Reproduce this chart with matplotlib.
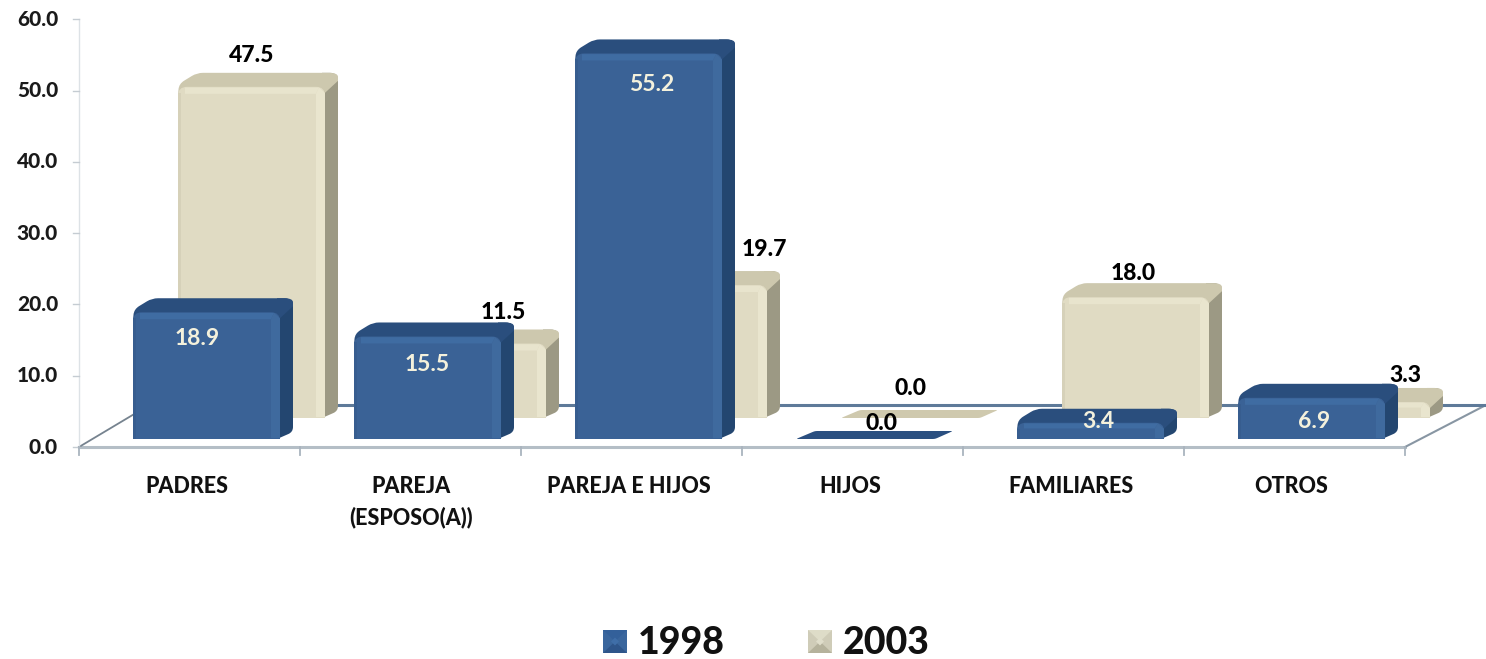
import matplotlib
matplotlib.use("Agg")
import matplotlib.pyplot as plt
from matplotlib.patches import Polygon, PathPatch
from matplotlib.path import Path

# ---------- data ----------
categories = ["PADRES", "PAREJA\n(ESPOSO(A))", "PAREJA E HIJOS", "HIJOS", "FAMILIARES", "OTROS"]
values_1998 = [18.9, 15.5, 55.2, 0.0, 3.4, 6.9]
values_2003 = [47.5, 11.5, 19.7, 0.0, 18.0, 3.3]
y_ticks = [0, 10, 20, 30, 40, 50, 60]
series_names = ["1998", "2003"]

# ---------- layout (pixels of the 1486x659 canvas) ----------
W, H = 1486, 659
X0, CAT_W = 79, 221
Y0, PX_PER_UNIT = 447, 7.13
BAR_W = 147
FRONT_LEFT, BACK_LEFT = 54, 99
FRONT_BASE, BACK_BASE = 439, 418
BACK_SHIFT = 21.5
DEPTH_X, DEPTH_Y = 13, 14

BLUE = dict(face="#3A6296", hi="#3F6A9E", cap="#2A4E7D", band="#3F6CA2", side="#234670",
            edge="#375D8F", flat="#2A4F80", text="#F4F1DC")
BEIGE = dict(face="#E0DBC3", hi="#E9E5CE", cap="#CDC8AE", band="#E8E4CD", side="#9C9984",
             edge="#D6D1B9", flat="#CFC9AE", text="black")

# per-label nudges (px) relative to bar centre x / bar top y
FRONT_NUDGE = [(-9, 26), (0, 28), (3, 31), (12, -24), (8, -1), (3, 24)]
BACK_NUDGE = [(0, -31), (31, -31), (71, -36), (-4, -37), (-2, -24), (49, -26)]

fig = plt.figure(figsize=(W / 100, H / 100), dpi=100, facecolor="white")
ax = fig.add_axes([0, 0, 1, 1])
ax.set_xlim(-X0 / CAT_W, (W - X0) / CAT_W)
ax.set_ylim((Y0 - H) / PX_PER_UNIT, Y0 / PX_PER_UNIT)
ax.axis("off")
plt.rcParams["font.family"] = ["Lato", "DejaVu Sans"]
HEAVY = 900


def dx(px):
    return px / CAT_W


def dy(px):
    return px / PX_PER_UNIT


def yv(py):
    """Canvas pixel row to value units."""
    return (Y0 - py) / PX_PER_UNIT


def poly(pts, color, z):
    ax.add_patch(Polygon(pts, closed=True, facecolor=color, edgecolor="none", zorder=z))


def rounded(pts, radii, color, z):
    """Closed polygon with per-vertex corner radii given in pixels."""
    px = [(x * CAT_W, y * PX_PER_UNIT) for x, y in pts]
    n = len(px)
    verts, codes = [], []
    for i in range(n):
        p, a, b = px[i], px[i - 1], px[(i + 1) % n]
        r = radii[i]
        da = ((a[0] - p[0]) ** 2 + (a[1] - p[1]) ** 2) ** 0.5 or 1
        db = ((b[0] - p[0]) ** 2 + (b[1] - p[1]) ** 2) ** 0.5 or 1
        ra, rb = min(r, da / 2), min(r, db / 2)
        s = (p[0] + (a[0] - p[0]) * ra / da, p[1] + (a[1] - p[1]) * ra / da)
        e = (p[0] + (b[0] - p[0]) * rb / db, p[1] + (b[1] - p[1]) * rb / db)
        verts.append(s)
        codes.append(Path.MOVETO if i == 0 else Path.LINETO)
        verts += [p, e]
        codes += [Path.CURVE3, Path.CURVE3]
    verts.append(verts[0])
    codes.append(Path.CLOSEPOLY)
    verts = [(x / CAT_W, y / PX_PER_UNIT) for x, y in verts]
    ax.add_patch(PathPatch(Path(verts, codes), facecolor=color, edgecolor="none", zorder=z))


def bar3d(cat, left_px, value, base_py, shift_px, pal, z):
    L = cat + dx(left_px)
    R = L + dx(BAR_W)
    B = yv(base_py)
    T = value + dy(shift_px)
    if T <= B:  # flat zero-height bar
        h, skew = dy(8), dx(19)
        rounded([(L, B), (R - skew + dx(11), B), (R + dx(10), B + h), (L + skew, B + h)],
                [2, 2, 2, 2], pal["flat"], z)
        return
    ddx, ddy = dx(DEPTH_X), dy(DEPTH_Y)
    # side face
    rounded([(R - dx(3), B), (R + ddx, B + dy(7)), (R + ddx, T + ddy), (R - dx(3), T + ddy)],
            [0, 5, 8, 0], pal["side"], z)
    # cap
    rounded([(L, T - dy(8)), (L + dx(1), T + dy(3)), (L + dx(19), T + ddy), (R - dx(8), T + ddy),
             (R + ddx, T + ddy), (R + ddx, T + dy(6)), (R, T - dy(6))],
            [0, 6, 6, 0, 9, 0, 0], pal["cap"], z + 0.1)
    # front face, rounded at the top, square at the bottom
    rounded([(L, B), (L, T), (R, T), (R, B)], [0, 9, 9, 0], pal["face"], z + 0.2)
    # bevel highlights
    band = min(dy(7), (T - B) * 0.35)
    stripe = dx(9)
    poly([(L + dx(7), T - band), (L + dx(7), T - dy(0.7)), (R - dx(6), T - dy(0.7)), (R - stripe, T - band)],
         pal["band"], z + 0.3)
    poly([(R - stripe, B + dy(1)), (R - stripe, T - band), (R - dx(6), T - dy(0.7)),
          (R, T - dy(6)), (R, B + dy(1))], pal["hi"], z + 0.3)
    poly([(L, B), (L + dx(3), B), (L + dx(3), T - dy(6)), (L, T - dy(6))], pal["edge"], z + 0.25)


# ---------- floor and axes ----------
axis_grey = "#A9B4BE"
wall_blue = "#5E7A99"
ax.plot([0, 6], [0, 0], color="#B4BEC6", lw=2.2, zorder=1)
ax.plot([0, dx(62)], [0, yv(410)], color="#76838F", lw=1.3, zorder=1)
ax.plot([6, dx(W - X0)], [0, yv(405)], color="#8896A3", lw=1.5, zorder=1)
ax.plot([dx(62), dx(W - X0)], [yv(405), yv(405)], color=wall_blue, lw=2.2, zorder=1)
ax.plot([0, 0], [0, y_ticks[-1]], color="#DDE2E6", lw=1.0, zorder=1)
for t in y_ticks:
    ax.plot([-dx(6), 0], [t, t], color="#C5CCD2", lw=1.0, zorder=1)
    ax.text(-dx(21), t, f"{t:.1f}", ha="right", va="center", fontsize=15,
            fontweight=HEAVY, color="#1A1A1A", zorder=9)
for i in range(len(categories) + 1):
    ax.plot([i, i], [0, -dy(8)], color=axis_grey, lw=1.3, zorder=1)

# ---------- bars ----------
for i, v in enumerate(values_2003):
    bar3d(i, BACK_LEFT, v, BACK_BASE, BACK_SHIFT, BEIGE, 3 + i * 0.01)
for i, v in enumerate(values_1998):
    bar3d(i, FRONT_LEFT, v, FRONT_BASE, 0, BLUE, 5 + i * 0.01)

# ---------- value labels ----------
for i, v in enumerate(values_2003):
    nx, ny = BACK_NUDGE[i]
    ax.text(i + dx(BACK_LEFT + BAR_W / 2 + nx), v + dy(BACK_SHIFT - ny), f"{v:.1f}",
            ha="center", va="center", fontsize=16.5, fontweight=HEAVY, color="black", zorder=8)
for i, v in enumerate(values_1998):
    nx, ny = FRONT_NUDGE[i]
    is_inside = v > 0
    ax.text(i + dx(FRONT_LEFT + BAR_W / 2 + nx), v - dy(ny), f"{v:.1f}",
            ha="center", va="center", fontsize=16.5,
            fontweight="bold" if is_inside else HEAVY,
            color=BLUE["text"] if is_inside else "black", zorder=8)

# ---------- category labels ----------
cat_centers_px = [187, 411, 629, 850, 1071, 1291]
for c_px, name in zip(cat_centers_px, categories):
    ax.text(dx(c_px - X0), yv(476), name, ha="center", va="top", fontsize=15.5,
            fontweight=HEAVY, color="#111111", linespacing=1.55, zorder=8)


# ---------- legend ----------
def swatch(x_px, top, side, bottom, centre):
    x0, x1 = dx(x_px - X0), dx(x_px + 24 - X0)
    y1, y0 = yv(630), yv(653)
    xc, yc = (x0 + x1) / 2, (y0 + y1) / 2
    poly([(x0, y0), (x1, y0), (x1, y1), (x0, y1)], side, 6)
    poly([(x0, y1), (x1, y1), (xc, yc)], top, 6.05)
    poly([(x0, y0), (x1, y0), (xc, yc)], bottom, 6.05)
    poly([(xc - dx(4), yc), (xc, yc + dy(4)), (xc + dx(4), yc), (xc, yc - dy(4))], centre, 6.1)


swatch(603, "#33609A", "#3A669D", "#2E558A", "#3F6EA8")
swatch(808, "#DEDCC8", "#CFCCB8", "#B5B29C", "#E0DECB")
for x_px, name in zip([638, 843], series_names):
    ax.text(dx(x_px - X0), yv(643), name, ha="left", va="center", fontsize=27,
            fontweight=HEAVY, color="#111111", zorder=8)

fig.savefig("out.png", dpi=100, facecolor="white")
